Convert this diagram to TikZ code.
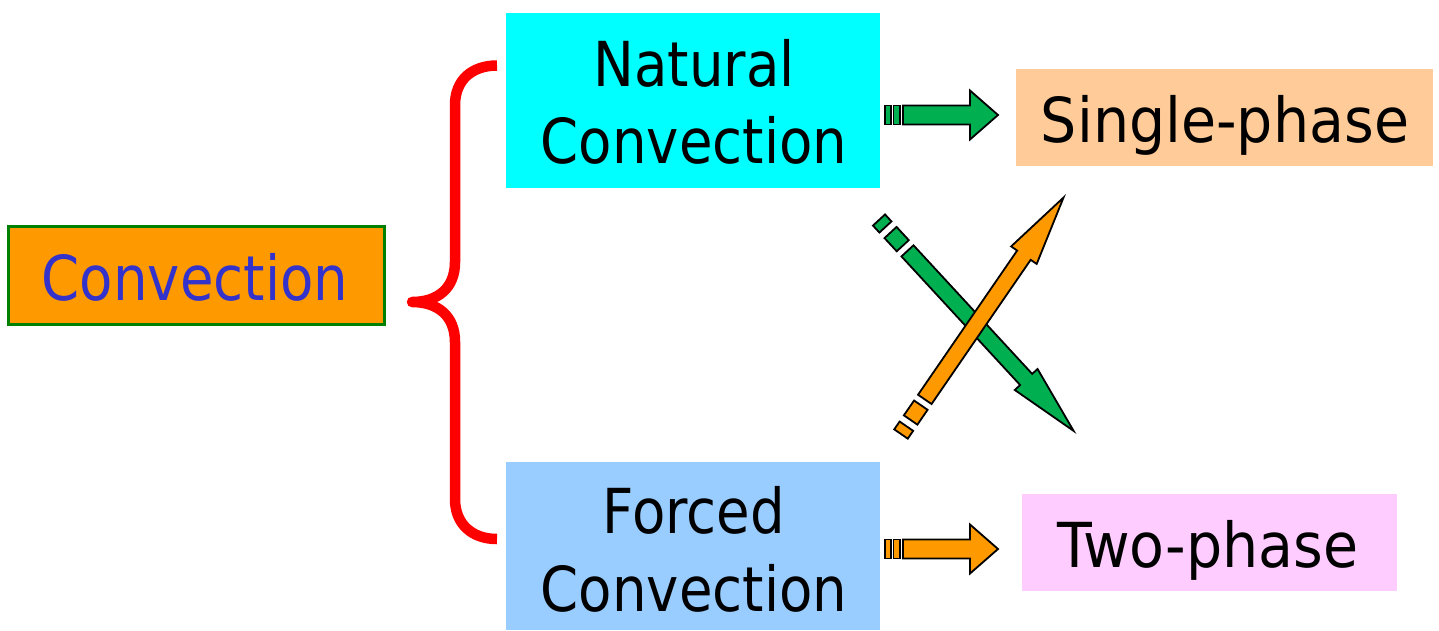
\documentclass[tikz,border=0pt]{standalone}
\usepackage{fontspec}
\newfontfamily\tah[FakeStretch=0.88]{DejaVu Sans}
\newfontfamily\tahw[FakeStretch=0.92]{DejaVu Sans}
\definecolor{convfill}{HTML}{FF9900}
\definecolor{convline}{HTML}{008000}
\definecolor{convtext}{HTML}{3333CC}
\definecolor{natfill}{HTML}{00FFFF}
\definecolor{forcfill}{HTML}{99CCFF}
\definecolor{singfill}{HTML}{FFCC99}
\definecolor{twofill}{HTML}{FFCCFF}
\definecolor{agreen}{HTML}{00B050}
\definecolor{aorange}{HTML}{FF9900}
\definecolor{bracered}{HTML}{FF0000}
\newcommand\harrow[2]{%
  \begin{scope}[shift={#2}]
    \draw[arr, fill=#1] (0,-9.5) rectangle (6,9.5);
    \draw[arr, fill=#1] (8.5,-9.5) rectangle (15,9.5);
    \draw[arr, fill=#1] (18,-9.5) -- (85,-9.5) -- (85,-24.5) -- (113,0) -- (85,24.5) -- (85,9.5) -- (18,9.5) -- cycle;
  \end{scope}}
\newcommand\darrow[3]{%
  \begin{scope}[shift={#2}, rotate=#3]
    \draw[arr, fill=#1] (0,-8.2) rectangle (9.5,8.2);
    \draw[arr, fill=#1] (17,-8.2) rectangle (35,8.2);
    \draw[arr, fill=#1] (42,-8.2) -- (217,-8.2) -- (217,-15.5) -- (287,0) -- (217,15.5) -- (217,8.2) -- (42,8.2) -- cycle;
  \end{scope}}
\begin{document}
\begin{tikzpicture}[x=1pt,y=-1pt,
  box/.style={rectangle, inner sep=0pt, outer sep=0pt},
  lbl/.style={anchor=base, inner sep=0pt, outer sep=0pt, font=\tah\fontsize{62}{77}\selectfont},
  arr/.style={draw=black, line width=1.8pt, line join=miter},
  brace/.style={draw=bracered, line width=10.5pt, line join=round, line cap=butt},
]
\useasboundingbox (0,0) rectangle (1439,630);
% boxes
\node[box, fill=convfill, draw=convline, line width=3pt, minimum width=376pt, minimum height=98pt] (conv) at (196.5,275) {};
\node[box, fill=natfill, minimum width=374pt, minimum height=175pt] (nat) at (693,100.5) {};
\node[box, fill=forcfill, minimum width=374pt, minimum height=168pt] (forc) at (693,546) {};
\node[box, fill=singfill, minimum width=417pt, minimum height=97pt] (sing) at (1224.5,117.5) {};
\node[box, fill=twofill, minimum width=375pt, minimum height=97pt] (two) at (1209.5,542.5) {};
% labels
\node[lbl, text=convtext] (convT) at (195,300) {Convection};
\node[lbl] (natA) at (694,86) {Natural};
\node[lbl] (natB) at (694,163) {Convection};
\node[lbl] (forA) at (694,533) {Forced};
\node[lbl] (forB) at (694,611) {Convection};
\node[lbl, font=\tahw\fontsize{62}{77}\selectfont] (singT) at (1225,142) {Single-phase};
\node[lbl, font=\tahw\fontsize{62}{77}\selectfont] (twoT) at (1208,567) {Two-phase};
% brace
\coordinate (bTop) at (497,65.5);
\coordinate (bTip) at (412,302);
\coordinate (bBot) at (497,539);
\draw[brace] (bTop) .. controls (472,65.5) and (455,80) .. (455,105) -- (455,262)
  .. controls (455,288) and (438,302) .. (bTip)
  .. controls (438,302) and (455,316) .. (455,342) -- (455,499)
  .. controls (455,524) and (472,539) .. (bBot);
% arrows
\harrow{agreen}{(885,115)}
\harrow{aorange}{(885,549)}
\darrow{agreen}{(879,220)}{-47.3}
\darrow{aorange}{(901,434)}{55.5}
\end{tikzpicture}
\end{document}
